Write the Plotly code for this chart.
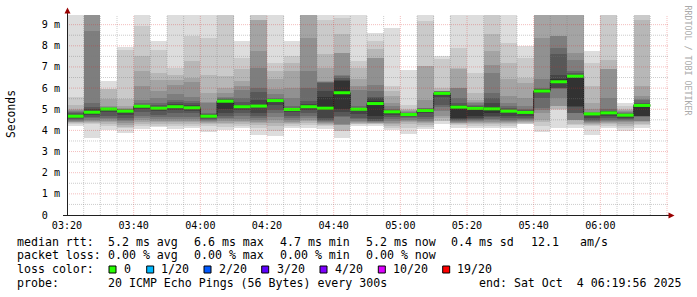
import plotly.graph_objects as go
import pandas as pd

# ---------------- data (ms) ----------------
first_slot_end = "2025-10-04 03:25:00"
slot_minutes = 5

median_ms = [4.67, 4.86, 5.01, 4.91, 5.14, 5.05, 5.12, 5.07, 4.67, 5.38,
             5.12, 5.15, 5.41, 4.99, 5.12, 5.05, 5.78, 5.00, 5.27, 4.88,
             4.75, 4.94, 5.75, 5.10, 5.04, 5.02, 4.91, 4.85, 5.86, 6.30,
             6.56, 4.78, 4.83, 4.72, 5.18]

# 20 sorted ping round-trip times per 5-minute slot
slot00 = [4.20, 4.30, 4.33, 4.38, 4.40, 4.45, 4.50, 4.55, 4.60, 4.65, 4.70, 4.75, 4.80, 4.85, 4.90, 4.95, 5.00, 5.22, 5.60, 11.0]
slot01 = [3.65, 4.28, 4.35, 4.40, 4.45, 4.50, 4.60, 4.65, 4.72, 4.80, 4.92, 5.00, 5.10, 5.30, 8.70, 10.0, 10.5, 11.0, 11.5, 12.0]
slot02 = [4.04, 4.23, 4.30, 4.38, 4.45, 4.52, 4.60, 4.70, 4.85, 4.98, 5.01, 5.03, 5.05, 5.07, 5.10, 5.15, 5.49, 5.95, 5.98, 6.33]
slot03 = [3.90, 4.10, 4.15, 4.25, 4.35, 4.44, 4.50, 4.60, 4.75, 4.89, 4.93, 4.95, 4.98, 5.00, 5.02, 5.05, 5.15, 5.47, 7.80, 7.93]
slot04 = [4.07, 4.20, 4.30, 4.40, 4.50, 4.60, 4.70, 4.85, 5.00, 5.10, 5.16, 5.18, 5.22, 5.30, 5.46, 6.12, 6.80, 7.54, 8.93, 11.0]
slot05 = [4.15, 4.22, 4.30, 4.40, 4.45, 4.55, 4.65, 4.75, 4.90, 5.03, 5.07, 5.12, 5.20, 5.30, 5.55, 5.86, 6.38, 6.72, 7.79, 8.25]
slot06 = [4.09, 4.20, 4.30, 4.38, 4.45, 4.55, 4.65, 4.80, 4.95, 5.09, 5.15, 5.25, 5.35, 5.45, 5.70, 6.17, 6.38, 6.64, 6.96, 11.0]
slot07 = [4.10, 4.22, 4.30, 4.38, 4.45, 4.55, 4.65, 4.80, 4.90, 5.04, 5.10, 5.20, 5.30, 5.40, 5.60, 6.30, 6.49, 7.27, 8.46, 11.0]
slot08 = [3.92, 4.20, 4.30, 4.35, 4.40, 4.45, 4.50, 4.55, 4.60, 4.66, 4.71, 4.74, 4.78, 4.83, 5.28, 5.32, 5.78, 6.64, 8.38, 11.0]
slot09 = [4.02, 4.18, 4.28, 4.36, 4.44, 4.52, 4.60, 4.68, 4.80, 4.99, 5.41, 5.43, 5.47, 5.54, 5.60, 5.78, 6.01, 6.56, 11.0, 11.5]
slot10 = [4.10, 4.20, 4.30, 4.38, 4.45, 4.55, 4.70, 4.80, 4.95, 5.10, 5.14, 5.20, 5.35, 5.55, 5.93, 6.10, 6.33, 6.88, 7.43, 8.25]
slot11 = [3.76, 4.10, 4.25, 4.36, 4.40, 4.50, 4.60, 4.70, 4.83, 5.10, 5.22, 5.46, 5.80, 6.01, 6.96, 7.75, 9.20, 9.24, 10.0, 11.0]
slot12 = [3.73, 3.96, 4.20, 4.35, 4.50, 4.65, 4.80, 4.95, 5.20, 5.39, 5.43, 5.46, 5.50, 5.55, 5.70, 5.95, 6.41, 6.80, 7.19, 11.0]
slot13 = [4.12, 4.20, 4.30, 4.35, 4.40, 4.50, 4.60, 4.70, 4.85, 4.97, 5.01, 5.03, 5.07, 5.15, 5.55, 6.00, 6.80, 7.20, 7.51, 8.25]
slot14 = [4.12, 4.25, 4.35, 4.45, 4.50, 4.60, 4.70, 4.80, 4.95, 5.09, 5.15, 5.25, 5.38, 6.01, 6.80, 8.38, 10.0, 10.5, 11.0, 12.0]
slot15 = [4.05, 4.20, 4.25, 4.30, 4.35, 4.40, 4.45, 4.50, 4.60, 4.95, 5.60, 5.86, 6.25, 6.28, 6.30, 6.33, 6.96, 7.59, 9.24, 11.0]
slot16 = [3.65, 3.96, 3.97, 4.26, 4.27, 4.28, 4.65, 4.67, 4.85, 4.99, 6.33, 6.40, 6.48, 6.55, 6.64, 7.67, 7.68, 8.54, 9.32, 10.5]
slot17 = [4.23, 4.28, 4.32, 4.36, 4.40, 4.45, 4.52, 4.60, 4.78, 4.97, 5.02, 5.05, 5.08, 5.15, 5.90, 6.10, 6.41, 6.96, 7.27, 11.0]
slot18 = [4.20, 4.28, 4.30, 4.33, 4.36, 4.40, 4.43, 4.46, 4.52, 4.67, 5.38, 5.54, 5.60, 5.86, 6.17, 7.42, 7.43, 7.83, 8.22, 8.61]
slot19 = [4.04, 4.10, 4.20, 4.30, 4.35, 4.45, 4.55, 4.65, 4.75, 4.86, 4.90, 4.93, 4.97, 5.02, 5.14, 5.30, 5.62, 5.85, 6.09, 8.82]
slot20 = [3.85, 4.10, 4.30, 4.40, 4.45, 4.50, 4.60, 4.65, 4.70, 4.73, 4.76, 4.78, 4.80, 4.83, 4.86, 4.90, 4.95, 5.00, 5.22, 6.85]
slot21 = [4.05, 4.15, 4.25, 4.35, 4.40, 4.45, 4.55, 4.65, 4.80, 4.92, 4.96, 4.99, 5.02, 5.05, 5.07, 5.46, 7.03, 7.04, 9.16, 11.0]
slot22 = [4.28, 4.43, 4.44, 4.60, 4.67, 4.90, 5.10, 5.22, 5.60, 5.70, 5.78, 5.80, 5.82, 5.84, 5.85, 5.86, 5.87, 6.01, 7.38, 7.51]
slot23 = [4.12, 4.25, 4.30, 4.33, 4.36, 4.40, 4.45, 4.50, 4.55, 4.60, 5.14, 5.20, 5.30, 5.54, 6.00, 6.01, 6.90, 6.96, 7.90, 11.0]
slot24 = [4.10, 4.20, 4.30, 4.35, 4.40, 4.45, 4.50, 4.55, 4.60, 4.70, 5.06, 5.10, 5.15, 5.22, 5.28, 5.35, 5.46, 5.78, 6.72, 11.0]
slot25 = [4.10, 4.20, 4.30, 4.36, 4.42, 4.50, 4.55, 4.62, 4.70, 4.80, 5.10, 5.30, 5.55, 5.78, 6.72, 7.11, 7.75, 8.54, 11.0, 12.0]
slot26 = [4.12, 4.20, 4.30, 4.35, 4.40, 4.45, 4.50, 4.60, 4.70, 4.88, 4.94, 4.98, 5.05, 5.15, 5.30, 5.62, 6.41, 7.20, 8.14, 11.0]
slot27 = [4.28, 4.32, 4.35, 4.40, 4.45, 4.50, 4.55, 4.60, 4.70, 4.83, 4.87, 4.90, 4.95, 5.00, 5.15, 5.54, 6.25, 6.49, 7.43, 8.01]
slot28 = [3.92, 4.23, 4.40, 4.51, 4.80, 4.95, 5.06, 5.54, 5.78, 5.82, 5.90, 5.94, 5.98, 6.01, 6.41, 8.38, 10.0, 10.5, 11.0, 12.0]
slot29 = [4.12, 4.98, 4.99, 5.14, 5.15, 5.54, 5.98, 6.00, 6.01, 6.25, 6.41, 6.64, 7.59, 7.90, 8.45, 8.46, 10.0, 10.5, 11.0, 12.0]
slot30 = [4.12, 4.27, 4.28, 4.49, 4.50, 4.51, 4.80, 4.83, 5.10, 5.15, 6.60, 6.64, 6.72, 6.80, 7.35, 7.67, 10.0, 10.5, 11.0, 12.0]
slot31 = [3.80, 4.20, 4.25, 4.30, 4.35, 4.40, 4.45, 4.50, 4.60, 4.76, 4.79, 4.80, 4.82, 4.84, 4.88, 5.00, 5.30, 6.09, 7.20, 7.75]
slot32 = [4.12, 4.20, 4.30, 4.35, 4.40, 4.45, 4.50, 4.60, 4.70, 4.81, 4.86, 4.90, 4.93, 4.99, 5.54, 6.88, 6.90, 7.35, 10.0, 11.0]
slot33 = [3.96, 4.10, 4.20, 4.30, 4.40, 4.45, 4.50, 4.55, 4.60, 4.70, 4.74, 4.76, 4.78, 4.80, 4.85, 4.90, 4.95, 5.00, 5.15, 5.30]
slot34 = [4.12, 4.27, 4.28, 4.42, 4.43, 4.44, 4.65, 4.66, 4.66, 4.67, 5.20, 5.22, 5.30, 5.46, 5.50, 5.62, 6.09, 9.24, 10.0, 11.0]

slots = [slot00, slot01, slot02, slot03, slot04, slot05, slot06, slot07, slot08, slot09,
         slot10, slot11, slot12, slot13, slot14, slot15, slot16, slot17, slot18, slot19,
         slot20, slot21, slot22, slot23, slot24, slot25, slot26, slot27, slot28, slot29,
         slot30, slot31, slot32, slot33, slot34]

x_tick_vals = ["2025-10-04 03:20", "2025-10-04 03:40", "2025-10-04 04:00", "2025-10-04 04:20",
               "2025-10-04 04:40", "2025-10-04 05:00", "2025-10-04 05:20", "2025-10-04 05:40",
               "2025-10-04 06:00"]
x_tick_text = ["03:20", "03:40", "04:00", "04:20", "04:40", "05:00", "05:20", "05:40", "06:00"]
y_tick_vals = [0, 1, 2, 3, 4, 5, 6, 7, 8, 9]
y_tick_text = ["0\u00a0\u00a0", "1 m", "2 m", "3 m", "4 m", "5 m", "6 m", "7 m", "8 m", "9 m"]

loss_labels = ["0", "1/20", "2/20", "3/20", "4/20", "10/20", "19/20"]
loss_colors = ["#26ff00", "#00b8ff", "#0059ff", "#5e00ff", "#7e00ff", "#dd00ff", "#ff0000"]

# ---------------- geometry / styles ----------------
W, H = 697, 297
L, R, T, B = 67, 29, 15, 82
PW, PH = W - L - R, H - T - B
FONT = "DejaVu Sans Mono"
smoke_colors = ["#dddddd", "#cacaca", "#b7b7b7", "#a4a4a4", "#919191",
                "#7e7e7e", "#6b6b6b", "#585858", "#454545", "#323232"]
step_ms = slot_minutes * 60 * 1000
MGRID = "rgba(220,40,40,0.30)"
GRID = "rgba(120,120,120,0.38)"


def px(x):
    return (x - L) / PW


def py(y):
    return (T + PH - y) / PH


slot_end = pd.date_range(first_slot_end, periods=len(slots), freq=f"{slot_minutes}min")
slot_start = slot_end - pd.Timedelta(minutes=slot_minutes)

fig = go.Figure()

# smoke: nested bands between k-th lowest and k-th highest ping
for k in range(10):
    lo = [s[k] for s in slots]
    hi = [s[19 - k] for s in slots]
    fig.add_trace(go.Bar(
        x=slot_end, base=lo, y=[h - l for h, l in zip(hi, lo)],
        width=step_ms, offset=-step_ms,
        marker=dict(color=smoke_colors[k], line=dict(width=0)),
        hoverinfo="skip", showlegend=False))

# thin dark median step line
step_x = list(slot_start) + [slot_end[-1]]
step_y = median_ms + [median_ms[-1]]
fig.add_trace(go.Scatter(x=step_x, y=step_y, mode="lines", line_shape="hv",
                         line=dict(color="#202020", width=1),
                         hoverinfo="skip", showlegend=False))

# green median segments (loss 0)
seg_x, seg_y = [], []
for s0, s1, m in zip(slot_start, slot_end, median_ms):
    seg_x += [s0, s1, None]
    seg_y += [m, m, None]
fig.add_trace(go.Scatter(x=seg_x, y=seg_y, mode="lines",
                         line=dict(color=loss_colors[0], width=3),
                         hoverinfo="skip", showlegend=False))

x_lo = pd.Timestamp("2025-10-04 03:20:00")
x_hi = pd.Timestamp("2025-10-04 06:20:18")

shapes = []
# grid above the smoke
t = x_lo + pd.Timedelta(minutes=5)
while t < x_hi:
    major = (t.minute % 20 == 0)
    shapes.append(dict(type="line", xref="x", yref="paper", x0=t, x1=t, y0=0, y1=1,
                       line=dict(color=MGRID if major else GRID, width=1, dash="1px,1px"),
                       layer="above"))
    t += pd.Timedelta(minutes=5)
v = 0.5
while v < 9.46:
    major = abs(v - round(v)) < 1e-9
    shapes.append(dict(type="line", xref="paper", yref="y", x0=0, x1=1, y0=v, y1=v,
                       line=dict(color=MGRID if major else GRID, width=1, dash="1px,1px"),
                       layer="above"))
    v += 0.5

# axes and arrows
shapes.append(dict(type="line", xref="paper", yref="paper", x0=px(67.5), x1=px(67.5),
                   y0=py(215.5), y1=py(12), line=dict(color="#202020", width=1)))
shapes.append(dict(type="line", xref="paper", yref="paper", x0=px(63), x1=px(669),
                   y0=py(215.5), y1=py(215.5), line=dict(color="#202020", width=1)))
shapes.append(dict(type="path", xref="paper", yref="paper",
                   path=f"M {px(64.5)} {py(13.5)} L {px(67.5)} {py(7.5)} L {px(70.5)} {py(13.5)} Z",
                   fillcolor="#990000", line=dict(width=0)))
shapes.append(dict(type="path", xref="paper", yref="paper",
                   path=f"M {px(668.5)} {py(212.5)} L {px(674.5)} {py(215.5)} L {px(668.5)} {py(218.5)} Z",
                   fillcolor="#990000", line=dict(width=0)))

# loss colour squares
sq_x = [109, 146.7, 204, 261.7, 320, 378.3, 442.7]
for x0, c in zip(sq_x, loss_colors):
    shapes.append(dict(type="rect", xref="paper", yref="paper",
                       x0=px(x0), x1=px(x0 + 7), y0=py(266), y1=py(273),
                       fillcolor=c, line=dict(color="#000000", width=1)))

fig.update_layout(shapes=shapes)


def label(text, x, y, size=11.6, color="#000000", **kw):
    fig.add_annotation(text=text.replace(" ", "\u00a0"), x=px(x), y=py(y),
                       xref="paper", yref="paper", xanchor=kw.pop("xanchor", "left"),
                       yanchor=kw.pop("yanchor", "middle"), showarrow=False,
                       borderpad=0, font=dict(family=FONT, size=size, color=color), **kw)


rows = [
    (241.7, [("median rtt:", 16.7), ("5.2 ms avg", 107.3), ("6.6 ms max", 193.3),
             ("4.7 ms min", 279.3), ("5.2 ms now", 365.7), ("0.4 ms sd", 451),
             ("12.1", 530.7), ("am/s", 579.3)]),
    (255.0, [("packet loss:", 16.7), ("0.00 % avg", 107.3), ("0.00 % max", 193.3),
             ("0.00 % min", 279.3), ("0.00 % now", 365.7)]),
    (269.3, [("loss color:", 16.7)]),
    (282.7, [("probe:", 16.7), ("20 ICMP Echo Pings (56 Bytes) every 300s", 107.3),
             ("end: Sat Oct  4 06:19:56 2025", 478.3)]),
]
for yy, items in rows:
    for txt, xx in items:
        label(txt, xx - 0.7, yy)

lab_x = [123.7, 160.7, 218.3, 276.3, 334.3, 392.3, 456.7]
for txt, xx in zip(loss_labels, lab_x):
    label(txt, xx - 0.7, 269.3)

label("Seconds", 11, 114, size=11.4, xanchor="center", textangle=-90)
label("RRDTOOL / TOBI OETIKER", 687.5, 60, size=8.3, color="#aaaaaa",
      xanchor="center", textangle=90)

fig.update_layout(
    width=W, height=H,
    margin=dict(l=L, r=R, t=T, b=B, pad=0),
    paper_bgcolor="#ffffff", plot_bgcolor="#ffffff",
    barmode="overlay", bargap=0, showlegend=False,
    xaxis=dict(type="date", range=[x_lo, x_hi], tickmode="array",
               tickvals=x_tick_vals, ticktext=x_tick_text,
               showgrid=False, zeroline=False, showline=False, ticks="",
               ticklabelstandoff=3,
               tickfont=dict(family=FONT, size=10.1, color="#000000")),
    yaxis=dict(range=[0, PH / 21.15], tickmode="array", tickvals=y_tick_vals,
               ticktext=y_tick_text, showgrid=False, zeroline=False, showline=False,
               ticks="", ticklabelstandoff=6,
               tickfont=dict(family=FONT, size=10.1, color="#000000")),
)

fig.write_html("out.html")
